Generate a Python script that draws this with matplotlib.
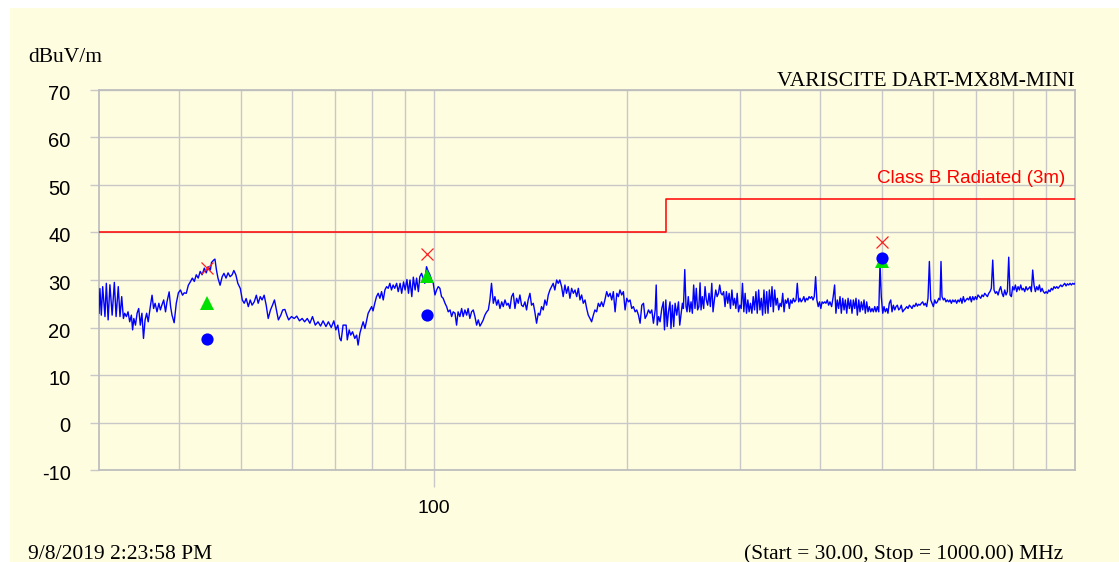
import matplotlib
matplotlib.use("Agg")
import matplotlib.pyplot as plt
import matplotlib.transforms as mtransforms
from matplotlib.ticker import FixedLocator, FixedFormatter, NullFormatter
from matplotlib.patches import Rectangle

# ---------------- data ----------------
seg1_freq = [30.0, 30.1, 30.25, 30.4, 30.65, 30.8, 31.0, 31.2, 31.45, 31.7,
             31.9, 32.15, 32.35, 32.55, 32.75, 32.9, 33.1, 33.3, 33.5, 33.7,
             33.85, 34.0, 34.2, 34.4, 34.6, 34.8, 35.0, 35.2, 35.4, 35.6,
             35.8, 36.1, 36.3, 36.5, 36.7, 36.95, 37.2, 37.4, 37.6, 37.85,
             38.1, 38.3, 38.6, 38.8, 39.0, 39.3, 39.6, 39.9, 40.2, 40.5,
             40.75, 41.05, 41.35, 41.65, 41.95, 42.25, 42.55, 42.85, 43.15, 43.45,
             43.8, 44.1, 44.4, 44.75, 44.95, 45.3, 45.5, 45.75, 46.0, 46.35,
             46.7, 47.0, 47.35, 47.7, 48.05, 48.4, 48.7, 49.05, 49.4, 49.85,
             50.2, 50.55, 50.9, 51.3, 51.65, 52.0, 52.4, 52.8, 53.15, 53.55,
             53.9, 54.3, 54.7, 55.1, 55.55, 55.95, 56.35, 56.75, 57.15, 57.65,
             58.05, 58.5, 58.9, 59.3, 59.9, 60.5, 61.05, 61.65, 62.25, 62.8,
             63.4, 64.0, 64.6, 65.25, 65.9, 66.5, 67.1, 67.8, 68.4, 69.1,
             69.75, 70.25, 70.75, 71.25, 71.6, 72.1]
seg1_level = [23.0, 28.2, 22.6, 28.6, 22.3, 29.3, 21.6, 29.0, 22.6, 29.5,
              22.3, 28.6, 22.3, 26.5, 21.9, 23.0, 22.3, 23.3, 21.2, 22.6,
              19.5, 21.9, 20.5, 23.0, 24.0, 20.5, 23.0, 17.7, 21.6, 23.0,
              21.2, 24.7, 26.8, 24.0, 25.1, 23.3, 25.1, 23.7, 24.7, 25.8,
              23.3, 25.4, 27.5, 24.4, 22.6, 21.0, 25.1, 27.3, 27.9, 26.8,
              27.3, 27.2, 28.9, 29.6, 30.4, 29.7, 31.1, 30.4, 31.8, 31.1,
              32.5, 31.5, 32.8, 32.1, 33.7, 34.2, 34.4, 32.1, 30.4, 28.9,
              30.7, 31.4, 30.4, 31.5, 30.7, 31.1, 32.0, 31.1, 29.3, 28.2,
              25.8, 25.1, 26.1, 24.4, 25.8, 24.7, 25.4, 26.8, 25.1, 26.5,
              25.8, 26.8, 24.7, 21.9, 23.7, 24.7, 25.8, 23.7, 21.6, 22.6,
              23.7, 23.8, 22.6, 21.6, 22.3, 21.9, 22.4, 21.4, 21.9, 21.2,
              21.9, 20.9, 22.3, 20.5, 21.2, 20.3, 21.4, 20.2, 21.2, 20.0,
              21.4, 19.5, 20.5, 17.7, 17.2, 20.5]

seg2_freq = [72.9, 73.2, 73.7, 74.1, 74.6, 75.2, 75.7, 76.1, 76.6, 77.1,
             77.5, 78.0, 78.5, 78.9, 79.4, 79.9, 80.3, 80.8, 81.3, 81.8,
             82.3, 82.8, 83.3, 83.8, 84.3, 84.8, 85.3, 85.8, 86.3, 86.8,
             87.4, 87.9, 88.5, 89.0, 89.6, 90.1, 90.7, 91.2, 91.7, 92.3,
             92.8, 93.4, 93.9, 94.5, 95.0, 95.6, 96.1, 96.7, 97.3, 97.9,
             98.5, 99.1, 99.7, 100.3, 100.9, 101.5, 102.1, 102.7, 103.3, 104.0,
             104.6, 105.2, 105.9, 106.5, 107.1, 107.8, 108.4, 109.0, 109.7, 110.4,
             111.0, 111.7, 112.4, 113.0, 113.7, 114.4, 115.1, 115.8, 116.5, 117.2,
             117.9, 118.6, 119.3, 120.0, 120.8, 121.5, 122.2, 122.9, 123.7, 124.4,
             125.2, 125.9, 126.7, 127.5, 128.2, 129.0, 129.8, 130.5, 131.3, 132.1,
             132.9, 133.7, 134.5, 135.3, 136.1, 136.9, 137.7, 138.6, 139.4, 140.2,
             141.1, 141.9, 142.8, 143.6, 144.5, 145.4, 146.2, 147.1, 148.0, 148.9,
             149.8, 150.7, 151.6, 152.5, 153.4, 154.3, 155.3, 156.2, 157.1, 158.1,
             159.0, 160.0, 160.9, 161.9, 162.9, 163.9, 164.9, 165.9, 166.9, 167.9,
             168.9, 169.9, 170.9, 172.0]
seg2_level = [20.5, 17.4, 19.5, 18.4, 19.1, 17.7, 18.4, 16.3, 18.8, 20.2,
              21.2, 19.8, 21.6, 23.0, 23.7, 24.4, 23.5, 25.1, 26.5, 27.2,
              26.15, 27.55, 25.8, 27.9, 28.6, 28.25, 29.3, 27.9, 28.95, 28.25,
              29.3, 27.55, 29.3, 27.2, 29.6, 27.9, 30.1, 27.2, 30.0, 26.5,
              30.6, 27.9, 30.4, 27.55, 30.7, 31.4, 30.4, 29.3, 32.8, 31.8,
              31.1, 30.0, 29.3, 26.85, 27.9, 28.6, 28.25, 26.5, 26.15, 25.1,
              24.4, 23.3, 23.7, 22.3, 23.3, 23.0, 20.5, 23.3, 22.3, 24.0,
              22.3, 23.7, 22.6, 24.0, 21.9, 23.3, 23.7, 22.3, 20.5, 21.6,
              20.3, 20.9, 21.6, 22.6, 23.3, 23.7, 25.8, 29.3, 25.1, 26.5,
              24.7, 25.8, 24.0, 25.4, 24.4, 25.8, 24.7, 25.1, 24.0, 26.5,
              27.2, 24.0, 26.15, 25.1, 26.85, 24.7, 24.4, 25.4, 23.7, 25.8,
              27.2, 24.7, 25.1, 23.3, 20.9, 23.0, 22.6, 24.4, 23.7, 25.8,
              24.7, 26.85, 27.9, 28.6, 29.3, 27.9, 30.0, 29.3, 30.0, 28.6,
              26.5, 28.95, 27.2, 28.6, 26.15, 28.25, 27.2, 27.9, 26.5, 28.25,
              25.8, 26.85, 25.1, 25.8]

seg3_freq = [173.0, 174.0, 175.1, 176.1, 177.2, 178.2, 179.3, 180.4, 181.4, 182.5,
             183.6, 184.7, 185.9, 187.0, 188.2, 189.3, 190.4, 191.6, 192.8, 193.9,
             195.0, 196.2, 197.4, 198.6, 199.8, 201.0, 202.2, 203.4, 204.6, 205.9,
             207.1, 208.4, 209.6, 210.9, 212.2, 213.4, 214.7, 216.0, 217.3, 218.6,
             219.9, 221.3, 222.1, 222.9, 224.0, 225.2, 226.6, 227.9, 228.8, 229.9,
             231.0, 232.1, 233.4, 234.2, 235.4, 236.5, 237.7, 239.1, 240.6, 241.7,
             242.9, 244.0, 244.9, 246.1, 247.2, 248.1, 249.2, 250.5, 251.7, 252.9,
             254.1, 255.3, 256.5, 257.7, 258.9, 260.0, 260.9, 262.1, 263.4, 264.7,
             265.9, 267.2, 268.5, 269.8, 271.2, 272.4, 273.7, 275.1, 276.4, 277.8,
             279.0, 280.3, 281.6, 283.0, 284.4, 285.8, 287.2, 288.6, 290.0, 291.5,
             292.9, 294.3, 295.7, 297.1, 298.5, 300.0, 301.4, 302.8, 304.3, 305.7,
             307.2, 308.7, 310.1, 311.6, 313.2, 314.7, 316.2, 317.8, 319.3, 320.9,
             322.4, 324.0, 325.5, 327.1, 328.7, 330.3, 331.9, 333.5, 335.1, 336.7,
             338.3, 339.9, 341.6, 343.2, 344.9, 346.6, 348.2, 349.9, 351.6, 353.2,
             354.9, 356.6, 358.3, 360.0, 361.8, 363.5, 365.2, 367.0, 368.7, 370.5,
             372.3, 373.9, 375.7, 377.5, 379.2, 381.0, 382.9, 384.6, 386.4, 388.3,
             390.1, 391.9, 393.8, 395.6, 397.5, 399.4, 401.2, 403.1, 405.0, 406.9,
             408.7, 410.7, 412.6]
seg3_level = [24.0, 22.6, 21.9, 21.2, 22.6, 23.7, 23.3, 25.1, 24.4, 25.4,
              24.4, 25.8, 27.55, 26.5, 27.2, 25.8, 27.55, 23.3, 27.2, 26.5,
              27.9, 26.85, 27.55, 23.7, 26.15, 25.4, 25.8, 24.0, 24.4, 23.3,
              23.7, 22.6, 20.9, 24.7, 25.1, 21.9, 22.6, 23.7, 23.0, 23.7,
              20.9, 23.7, 28.95, 20.5, 22.3, 21.2, 24.0, 25.4, 19.5, 25.8,
              20.2, 23.3, 25.4, 19.8, 24.7, 20.2, 25.1, 22.6, 25.4, 20.5,
              23.0, 25.1, 24.0, 32.2, 24.4, 23.3, 26.5, 23.3, 25.4, 23.0,
              28.95, 24.0, 28.25, 23.7, 24.4, 29.4, 23.7, 26.5, 24.0, 28.6,
              25.8, 24.7, 27.2, 24.4, 29.3, 23.3, 25.8, 27.9, 26.5, 27.2,
              28.95, 27.2, 26.85, 27.55, 24.4, 27.55, 25.1, 27.2, 24.0, 27.9,
              24.7, 26.15, 24.0, 27.2, 23.3, 24.7, 24.0, 29.3, 23.3, 27.2,
              23.0, 25.8, 23.3, 25.1, 23.0, 26.5, 23.7, 27.55, 23.0, 27.9,
              23.7, 26.15, 22.6, 27.9, 23.0, 27.55, 23.0, 27.9, 24.4, 28.6,
              23.3, 27.9, 24.7, 26.15, 23.7, 25.1, 24.4, 27.2, 23.3, 25.8,
              25.1, 26.15, 24.0, 25.8, 25.1, 26.15, 25.4, 25.8, 29.3, 25.4,
              26.15, 25.4, 25.8, 26.5, 25.4, 26.15, 25.8, 26.5, 26.15, 26.5,
              25.8, 26.5, 30.7, 25.8, 24.4, 25.4, 24.0, 25.4, 25.1, 25.4,
              25.1, 25.8, 24.7]

seg4_freq = [414.6, 417.1, 419.5, 421.6, 423.6, 425.6, 427.7, 429.9, 431.9, 434.1,
             436.2, 438.2, 440.4, 442.5, 444.6, 446.7, 448.8, 451.0, 453.2, 455.3,
             457.5, 459.8, 461.9, 464.1, 466.4, 468.6, 470.8, 473.1, 475.4, 477.6,
             480.0, 482.3, 484.6, 487.0, 489.3, 491.6, 494.1, 496.3, 498.6, 501.2,
             503.5, 505.8, 508.4, 510.7, 513.1, 515.8, 518.2, 520.7, 523.3, 525.7,
             528.2, 530.8, 533.2, 535.7, 538.4, 541.0, 543.6, 546.3, 548.9, 551.5,
             554.1, 556.8, 559.5, 562.2, 564.9, 567.6, 570.3, 573.0, 575.7, 578.5,
             581.3, 584.1, 586.9, 589.7, 592.6, 595.5, 598.3, 601.2, 604.1, 607.0,
             609.9, 612.9, 615.7, 617.9, 620.1, 623.1, 626.1, 629.1, 632.1, 635.2,
             638.3, 641.3, 644.4, 647.5, 650.6, 653.7, 656.9, 660.0, 663.2, 666.3,
             669.5, 672.8, 676.0, 679.2, 682.5, 685.9, 689.1, 692.4, 695.7, 699.1,
             702.4, 705.8, 709.2, 712.7, 716.1, 719.5, 723.0, 726.5, 730.0, 733.5,
             736.9, 740.4, 744.1, 747.6, 751.2, 754.8, 758.5, 762.1, 765.7, 769.4,
             773.1, 776.8, 780.6, 784.3, 788.1, 791.9, 795.7, 799.5, 803.4, 807.2,
             811.1, 815.0, 818.9, 822.8, 826.8, 830.7, 834.7, 838.7, 842.7, 846.8,
             850.8, 854.9, 859.0, 863.1, 867.3, 871.5, 875.7, 879.9, 884.1, 888.4,
             892.6, 897.0, 901.3, 905.6, 910.0, 914.2, 918.6, 923.0, 927.4, 931.9,
             936.4, 940.9, 945.4, 950.0, 954.6, 959.2, 963.8, 968.4, 973.1, 977.8,
             982.3, 987.0, 991.8, 996.5, 1000.0]
seg4_level = [25.4, 24.4, 26.5, 28.95, 23.0, 25.8, 24.0, 26.5, 23.0, 26.15,
              23.7, 25.8, 23.0, 26.15, 24.0, 25.8, 23.0, 25.8, 24.0, 26.15,
              22.6, 25.8, 23.3, 25.4, 23.7, 25.8, 23.0, 25.4, 23.3, 24.4,
              23.3, 24.0, 23.3, 24.4, 23.3, 24.4, 23.3, 33.5, 26.5, 23.0,
              24.4, 23.3, 24.0, 23.0, 25.1, 25.8, 23.3, 24.7, 23.7, 24.4,
              24.7, 23.7, 24.0, 24.7, 23.3, 23.7, 24.0, 24.4, 24.0, 24.7,
              24.4, 24.0, 24.7, 24.4, 25.1, 24.5, 24.9, 24.7, 25.1, 25.4,
              24.7, 25.1, 24.4, 26.15, 33.9, 25.8, 25.1, 24.4, 25.8, 25.1,
              25.4, 26.15, 25.8, 33.9, 26.5, 25.8, 26.15, 25.4, 25.8, 25.4,
              25.8, 25.1, 25.8, 25.4, 25.8, 25.1, 25.8, 25.4, 26.15, 25.1,
              26.5, 25.4, 25.8, 26.15, 25.8, 26.5, 25.4, 26.5, 25.8, 26.5,
              25.9, 26.85, 26.5, 26.15, 26.85, 26.5, 27.2, 26.85, 26.5, 27.2,
              27.55, 28.25, 34.2, 27.9, 27.2, 27.55, 26.85, 27.9, 28.6, 27.2,
              26.5, 27.9, 26.85, 27.55, 34.8, 26.85, 26.5, 28.6, 27.9, 28.95,
              27.55, 28.6, 27.9, 28.95, 27.9, 28.25, 27.55, 28.6, 27.9, 28.25,
              28.6, 27.55, 32.1, 28.95, 27.55, 28.6, 27.9, 28.95, 27.55, 28.25,
              27.55, 27.2, 27.55, 27.2, 27.9, 27.55, 28.25, 27.9, 28.6, 28.25,
              28.6, 28.25, 28.6, 28.95, 28.6, 28.95, 29.3, 28.75, 29.2, 28.95,
              29.3, 28.95, 29.3, 29.1, 29.3]

limit_freq = [30, 230, 230, 1000]
limit_level = [40, 40, 47, 47]

marker_freq = [44.2, 97.5, 500.0]
peak_level = [32.5, 35.5, 38.1]
qp_level = [25.2, 30.8, 34.0]
avg_level = [17.5, 22.6, 34.6]

y_ticks = [-10, 0, 10, 20, 30, 40, 50, 60, 70]
x_major_ticks = [100]
x_major_labels = ["100"]
x_minor_ticks = [40, 50, 60, 70, 80, 90, 200, 300, 400, 500, 600, 700, 800, 900]

title_right = "VARISCITE DART-MX8M-MINI"
unit_label = "dBuV/m"
limit_label = "Class B Radiated (3m)"
date_label = "9/8/2019 2:23:58 PM"
range_label = "(Start = 30.00, Stop = 1000.00) MHz"

for f, l in ((seg1_freq, seg1_level), (seg2_freq, seg2_level),
             (seg3_freq, seg3_level), (seg4_freq, seg4_level)):
    assert len(f) == len(l), (len(f), len(l))

trace_freq = seg1_freq + seg2_freq + seg3_freq + seg4_freq
trace_level = seg1_level + seg2_level + seg3_level + seg4_level

# ---------------- style ----------------
BG = "#FFFDE0"
GRID = "#C8C8C8"
plt.rcParams["font.family"] = ["Liberation Sans", "DejaVu Sans"]
plt.rcParams["axes.unicode_minus"] = False
SERIF = ["Liberation Serif", "DejaVu Serif"]

W, H = 1119, 562
fig = plt.figure(figsize=(W / 100, H / 100), dpi=100, facecolor="white")
fig.patches.append(Rectangle((10 / W, 0), 1 - 10 / W, 1 - 8 / H,
                             transform=fig.transFigure, facecolor=BG,
                             edgecolor="none", zorder=-10))

ax = fig.add_axes([99 / W, 92 / H, 976 / W, 380 / H])
ax.set_zorder(1)
ax.set_facecolor(BG)
ax.set_xscale("log")
ax.set_xlim(30, 1000)
ax.set_ylim(-10, 70)

ax.xaxis.set_major_locator(FixedLocator(x_major_ticks))
ax.xaxis.set_major_formatter(FixedFormatter(x_major_labels))
ax.xaxis.set_minor_locator(FixedLocator(x_minor_ticks))
ax.xaxis.set_minor_formatter(NullFormatter())
ax.yaxis.set_major_locator(FixedLocator(y_ticks))
ax.yaxis.set_minor_locator(FixedLocator([]))

ax.tick_params(axis="x", which="major", length=12.2, width=1.0, color=GRID,
               pad=9.5, labelsize=14, labelcolor="black")
ax.tick_params(axis="x", which="minor", length=0)
ax.tick_params(axis="y", which="major", length=6.5, width=1.0, color=GRID,
               pad=14, labelsize=14.5, labelcolor="black")
shift = mtransforms.ScaledTranslation(0, -2.5 / 100, fig.dpi_scale_trans)
for lab in ax.get_yticklabels():
    lab.set_transform(lab.get_transform() + shift)

ax.grid(True, which="major", axis="both", color=GRID, linewidth=1.0)
ax.grid(True, which="minor", axis="x", color=GRID, linewidth=1.0)
ax.set_axisbelow(True)
for s in ax.spines.values():
    s.set_color("#BEBEBE")
    s.set_linewidth(1.3)

# limit line
ax.plot(limit_freq, limit_level, color="#FF0000", linewidth=1.1, zorder=3)
ax.text(0.9898, 0.7553, limit_label, transform=ax.transAxes, ha="right",
        va="baseline", color="#FF0000", fontsize=13.5)

# trace
ax.plot(trace_freq, trace_level, color="#0000FF", linewidth=1.0, zorder=4)

# markers
ax.plot(marker_freq, qp_level, linestyle="none", marker="^", markersize=10,
        color="#00E000", markeredgewidth=0, zorder=5)
ax.plot(marker_freq, avg_level, linestyle="none", marker="o", markersize=8.8,
        color="#0000FF", markeredgewidth=0, zorder=6)
ax.plot(marker_freq, peak_level, linestyle="none", marker="x", markersize=9,
        color="#FF2020", markeredgewidth=0.9, zorder=7)

# texts
fig.text(28 / W, 1 - 62 / H, unit_label, family=SERIF, fontsize=15.5,
         ha="left", va="baseline")
fig.text(1075 / W, 1 - 86 / H, title_right, family=SERIF, fontsize=15.5,
         ha="right", va="baseline")
fig.text(28 / W, 1 - 559 / H, date_label, family=SERIF, fontsize=15.5,
         ha="left", va="baseline")
fig.text(1063 / W, 1 - 559 / H, range_label, family=SERIF, fontsize=15.5,
         ha="right", va="baseline")

fig.savefig("out.png", dpi=100, facecolor=fig.get_facecolor())
